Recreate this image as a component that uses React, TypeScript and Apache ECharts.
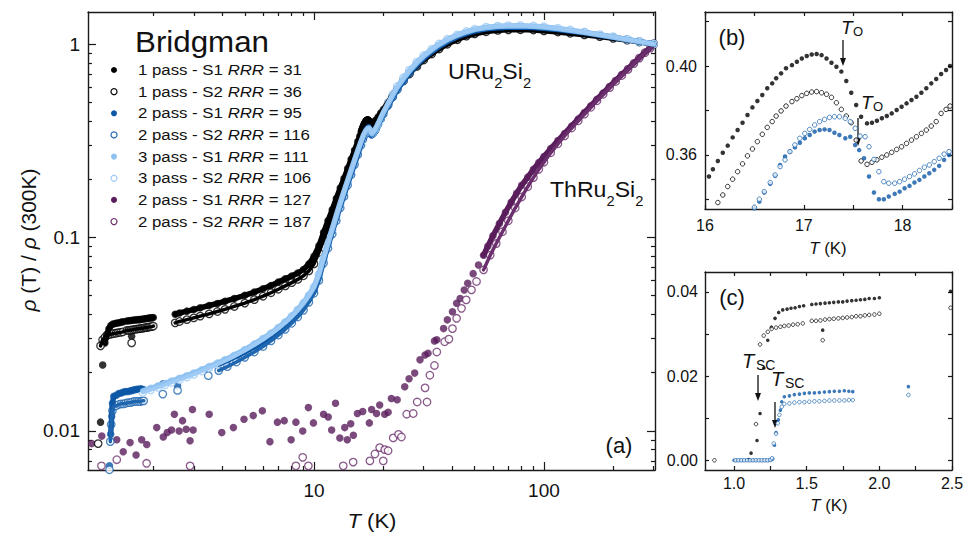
import React, { useEffect, useRef } from 'react';
import * as echarts from 'echarts';

type P = [number, number];

// ---------------- tick values ----------------
const aXMajor = [10, 100];
const aXMinor = [2, 3, 4, 5, 6, 7, 8, 9, 20, 30, 40, 50, 60, 70, 80, 90, 200, 300];
const aYMajor = [0.01, 0.1, 1];
const aYMinor = [0.007, 0.008, 0.009, 0.02, 0.03, 0.04, 0.05, 0.06, 0.07, 0.08, 0.09, 0.2, 0.3, 0.4, 0.5, 0.6, 0.7, 0.8, 0.9];
const bXTicks = [16, 16.5, 17, 17.5, 18, 18.5];
const bXLabels = [16, 17, 18];
const bYTicks = [0.34, 0.36, 0.38, 0.4, 0.42];
const bYLabels = [0.36, 0.4];
const cXTicks = [1, 1.25, 1.5, 1.75, 2, 2.25, 2.5];
const cXLabels = [1.0, 1.5, 2.0, 2.5];
const cYTicks = [0, 0.01, 0.02, 0.03, 0.04];
const cYLabels = [0, 0.02, 0.04];

// ---------------- legend ----------------
const legendLabels = ['1 pass - S1', '1 pass - S2', '2 pass - S1', '2 pass - S2', '3 pass - S1', '3 pass - S2', '2 pass - S1', '2 pass - S2'];
const legendRRR = [31, 36, 95, 116, 111, 106, 127, 187];

// ---------------- URu2Si2 1 pass S1 (black, filled) ----------------
const blackS1Low: P[] = [[1.10, 0.0002], [1.117, 0.0017], [1.158, 0.0047], [1.179, 0.0111], [1.205, 0.0219], [1.232, 0.0285], [1.257, 0.0316], [1.282, 0.0337], [1.307, 0.0351], [1.335, 0.0357], [1.365, 0.0359], [1.392, 0.0361], [1.42, 0.0362], [1.45, 0.0365], [1.479, 0.0367], [1.535, 0.037], [1.564, 0.0371], [1.594, 0.0372], [1.626, 0.0373], [1.656, 0.0374], [1.686, 0.0375], [1.718, 0.0376], [1.748, 0.0376], [1.778, 0.0378], [1.81, 0.0379], [1.84, 0.038], [1.87, 0.0381], [1.9, 0.0382], [1.93, 0.0384], [1.966, 0.0384], [2.0, 0.0386]];
const blackS1Odd: P[] = [[1.61, 0.0309]];
const blackS1Mid: P[] = [[2.49, 0.0401], [2.6, 0.0407], [2.8, 0.0416], [3.0, 0.0424], [3.2, 0.0433], [3.5, 0.0445], [3.8, 0.0456], [4.1, 0.0468], [4.5, 0.0483], [5.0, 0.0502], [5.5, 0.0522], [6.0, 0.0543], [6.5, 0.0565], [7.0, 0.0588], [7.5, 0.0611], [8.0, 0.0632], [8.5, 0.0655], [9.0, 0.0683], [9.5, 0.073], [10.0, 0.08], [10.5, 0.0905], [11.0, 0.106], [11.5, 0.122], [12.0, 0.139], [12.5, 0.159], [13.0, 0.18], [13.5, 0.202], [14.0, 0.227], [14.5, 0.254], [15.0, 0.282], [15.5, 0.313], [15.8, 0.333]];
const blackS1B: P[] = [[16.04, 0.3503], [16.08, 0.3536], [16.13, 0.3573], [16.18, 0.361], [16.23, 0.3642], [16.28, 0.3679], [16.33, 0.3712], [16.38, 0.3745], [16.43, 0.378], [16.48, 0.3814], [16.53, 0.3843], [16.58, 0.387], [16.63, 0.39], [16.68, 0.3922], [16.72, 0.3945], [16.77, 0.3967], [16.82, 0.399], [16.88, 0.4004], [16.93, 0.4019], [16.98, 0.4034], [17.03, 0.4045], [17.08, 0.4052], [17.13, 0.4054], [17.18, 0.4049], [17.23, 0.4034], [17.28, 0.4015], [17.33, 0.3997], [17.38, 0.3975], [17.43, 0.3933], [17.48, 0.388], [17.53, 0.3825], [17.58, 0.3772], [17.64, 0.3742], [17.69, 0.3745], [17.74, 0.3754], [17.79, 0.3765], [17.84, 0.3775], [17.89, 0.3787], [17.94, 0.3802], [17.99, 0.3817], [18.04, 0.3832], [18.09, 0.3847], [18.14, 0.3862], [18.19, 0.388], [18.24, 0.39], [18.29, 0.3922], [18.34, 0.3942], [18.39, 0.3964], [18.44, 0.3982], [18.48, 0.4]];
const blackS1High: P[] = [[18.6, 0.405], [19.0, 0.42], [19.5, 0.44], [20, 0.458], [21, 0.5], [22, 0.545], [23, 0.59], [24.5, 0.65], [26, 0.705], [28, 0.77], [30, 0.83], [32.5, 0.89], [35, 0.945], [38, 1.0], [42, 1.055], [46, 1.1], [50, 1.13], [56, 1.16], [63, 1.178], [70, 1.186], [79, 1.188], [90, 1.183], [100, 1.172], [115, 1.155], [130, 1.138], [150, 1.117], [175, 1.094], [200, 1.072], [230, 1.048], [260, 1.026], [300, 1.0]];

// ---------------- URu2Si2 1 pass S2 (black, open) ----------------
const blackS2Low: P[] = [[0.865, 0], [1.151, 0.0086], [1.179, 0.0275], [1.204, 0.0296], [1.232, 0.0305], [1.259, 0.0312], [1.289, 0.0315], [1.319, 0.0317], [1.346, 0.0319], [1.376, 0.032], [1.406, 0.0322], [1.438, 0.0323], [1.473, 0.0325], [1.535, 0.0331], [1.564, 0.0331], [1.594, 0.0332], [1.626, 0.0334], [1.656, 0.0335], [1.686, 0.0336], [1.718, 0.0337], [1.748, 0.0338], [1.778, 0.0339], [1.81, 0.034], [1.84, 0.0342], [1.87, 0.0342], [1.9, 0.0344], [1.93, 0.0345], [1.966, 0.0346], [2.0, 0.0348]];
const blackS2Odd: P[] = [[1.61, 0.0285]];
const blackS2Mid: P[] = [[2.49, 0.0362], [2.6, 0.0368], [2.8, 0.0376], [3.0, 0.0384], [3.2, 0.0392], [3.5, 0.0403], [3.8, 0.0414], [4.1, 0.0425], [4.5, 0.044], [5.0, 0.0458], [5.5, 0.0477], [6.0, 0.0497], [6.5, 0.0518], [7.0, 0.054], [7.5, 0.0562], [8.0, 0.0584], [8.5, 0.0607], [9.0, 0.0634], [9.5, 0.0672], [10.0, 0.073], [10.5, 0.0835], [11.0, 0.097], [11.5, 0.111], [12.0, 0.127], [12.5, 0.145], [13.0, 0.165], [13.5, 0.186], [14.0, 0.209], [14.5, 0.234], [15.0, 0.261], [15.5, 0.294], [15.8, 0.314]];
const blackS2B: P[] = [[16.13, 0.3386], [16.18, 0.342], [16.23, 0.3458], [16.28, 0.3491], [16.33, 0.3525], [16.38, 0.356], [16.43, 0.3596], [16.48, 0.3627], [16.53, 0.366], [16.58, 0.3693], [16.63, 0.3724], [16.68, 0.375], [16.72, 0.3775], [16.77, 0.3798], [16.82, 0.382], [16.88, 0.384], [16.93, 0.3853], [16.98, 0.3867], [17.03, 0.3877], [17.08, 0.3883], [17.13, 0.3885], [17.18, 0.388], [17.23, 0.3873], [17.28, 0.3859], [17.33, 0.3835], [17.38, 0.3805], [17.43, 0.3775], [17.48, 0.3745], [17.53, 0.3667], [17.58, 0.3573], [17.64, 0.3558], [17.69, 0.3567], [17.74, 0.3578], [17.79, 0.359], [17.84, 0.36], [17.89, 0.3612], [17.94, 0.3625], [17.99, 0.3637], [18.04, 0.3652], [18.09, 0.3667], [18.14, 0.3682], [18.19, 0.3697], [18.24, 0.3712], [18.29, 0.373], [18.34, 0.375], [18.39, 0.3787], [18.44, 0.3805], [18.48, 0.382]];
const blackS2High: P[] = [[18.6, 0.386], [19.0, 0.402], [19.5, 0.424], [20, 0.445], [21, 0.49], [22, 0.537], [23, 0.583], [24.5, 0.645], [26, 0.7], [28, 0.766], [30, 0.827], [32.5, 0.888], [35, 0.943], [38, 0.998], [42, 1.053], [46, 1.098], [50, 1.128], [56, 1.158], [63, 1.176], [70, 1.184], [79, 1.186], [90, 1.181], [100, 1.17], [115, 1.153], [130, 1.136], [150, 1.115], [175, 1.092], [200, 1.07], [230, 1.047], [260, 1.025], [300, 1.0]];

// ---------------- URu2Si2 2 pass S1 (dark blue, filled) ----------------
const blueS1Low: P[] = [[1.0, 0], [1.02, 0], [1.04, 0], [1.06, 0], [1.08, 0], [1.1, 0], [1.12, 0], [1.14, 0], [1.16, 0], [1.18, 0], [1.2, 0], [1.22, 0], [1.24, 0], [1.255, 0.0001], [1.266, 0.0003], [1.278, 0.0036], [1.289, 0.0066], [1.305, 0.0096], [1.319, 0.0119], [1.328, 0.0139], [1.346, 0.0151], [1.381, 0.0153], [1.415, 0.0156], [1.45, 0.0157], [1.484, 0.0159], [1.518, 0.016], [1.553, 0.016], [1.587, 0.0161], [1.622, 0.0162], [1.656, 0.0163], [1.69, 0.0164], [1.725, 0.0164], [1.759, 0.0165], [1.79, 0.0164], [1.817, 0.0163]];
const blueS1Odd: P[] = [[2.2, 0.0175], [2.55, 0.0171], [3.47, 0.0211]];
const blueS1Mid: P[] = [[3.85, 0.0222], [4.2, 0.0232], [4.6, 0.0244], [5.0, 0.0256], [5.5, 0.0272], [6.0, 0.0289], [6.5, 0.0308], [7.0, 0.0328], [7.5, 0.035], [8.0, 0.0375], [8.5, 0.0402], [9.0, 0.0435], [9.5, 0.0475], [10.0, 0.0525], [10.5, 0.0615], [11.0, 0.0755], [11.5, 0.0905], [12.0, 0.107], [12.5, 0.125], [13.0, 0.145], [13.5, 0.166], [14.0, 0.189], [14.5, 0.214], [15.0, 0.241], [15.5, 0.27], [16.0, 0.302], [16.3, 0.322]];
const blueS1B: P[] = [[16.5, 0.336], [16.55, 0.339], [16.6, 0.3431], [16.66, 0.347], [16.71, 0.3506], [16.76, 0.3555], [16.81, 0.3593], [16.86, 0.3615], [16.91, 0.3634], [16.96, 0.3655], [17.01, 0.3675], [17.06, 0.369], [17.11, 0.3705], [17.16, 0.3712], [17.21, 0.3715], [17.26, 0.3712], [17.31, 0.37], [17.36, 0.369], [17.42, 0.3675], [17.47, 0.3682], [17.52, 0.3645], [17.56, 0.3622], [17.61, 0.3585], [17.66, 0.3503], [17.71, 0.3431], [17.76, 0.3401], [17.81, 0.3401], [17.86, 0.3413], [17.92, 0.3425], [17.97, 0.3435], [18.02, 0.345], [18.07, 0.3461], [18.12, 0.3476], [18.17, 0.3488], [18.22, 0.3503], [18.27, 0.3518], [18.32, 0.3533], [18.37, 0.3551], [18.42, 0.3578], [18.47, 0.36]];
const blueS1High: P[] = [[18.7, 0.372], [19.0, 0.385], [19.5, 0.408], [20, 0.432], [21, 0.48], [22, 0.53], [23, 0.58], [24.5, 0.645], [26, 0.708], [28, 0.78], [30, 0.845], [32.5, 0.913], [35, 0.972], [38, 1.03], [42, 1.09], [46, 1.135], [50, 1.168], [56, 1.198], [63, 1.215], [70, 1.222], [79, 1.224], [90, 1.218], [100, 1.207], [115, 1.188], [130, 1.167], [150, 1.143], [175, 1.11], [200, 1.083], [230, 1.054], [260, 1.028], [300, 1.0]];

// ---------------- URu2Si2 2 pass S2 (dark blue, open) ----------------
const blueS2Low: P[] = [[1.01, 0], [1.03, 0], [1.05, 0], [1.07, 0], [1.09, 0], [1.11, 0], [1.13, 0], [1.15, 0], [1.17, 0], [1.19, 0], [1.21, 0], [1.23, 0], [1.25, 0.0001], [1.262, 0.0005], [1.273, 0.004], [1.289, 0.0063], [1.3, 0.0088], [1.312, 0.0108], [1.328, 0.0127], [1.346, 0.0134], [1.381, 0.0135], [1.415, 0.0137], [1.45, 0.0138], [1.484, 0.0138], [1.518, 0.0139], [1.553, 0.014], [1.587, 0.014], [1.622, 0.0141], [1.656, 0.0142], [1.69, 0.0142], [1.725, 0.0142], [1.759, 0.0142], [1.79, 0.0143], [1.817, 0.0143]];
const blueS2Odd: P[] = [[2.2, 0.0155], [2.55, 0.0162], [3.47, 0.0193]];
const blueS2Mid: P[] = [[3.85, 0.0205], [4.2, 0.0215], [4.6, 0.0227], [5.0, 0.024], [5.5, 0.0256], [6.0, 0.0273], [6.5, 0.0292], [7.0, 0.0313], [7.5, 0.0335], [8.0, 0.036], [8.5, 0.0388], [9.0, 0.042], [9.5, 0.0462], [10.0, 0.0515], [10.5, 0.06], [11.0, 0.0735], [11.5, 0.088], [12.0, 0.104], [12.5, 0.122], [13.0, 0.142], [13.5, 0.163], [14.0, 0.186], [14.5, 0.211], [15.0, 0.238], [15.5, 0.268], [16.0, 0.3], [16.3, 0.321]];
const blueS2B: P[] = [[16.5, 0.3365], [16.55, 0.3401], [16.6, 0.3435], [16.66, 0.3476], [16.71, 0.351], [16.76, 0.3548], [16.81, 0.3578], [16.86, 0.3615], [16.91, 0.3645], [16.96, 0.3675], [17.01, 0.3697], [17.06, 0.3715], [17.11, 0.3735], [17.16, 0.375], [17.21, 0.376], [17.26, 0.3769], [17.31, 0.3772], [17.36, 0.3772], [17.42, 0.3765], [17.47, 0.375], [17.52, 0.372], [17.57, 0.3685], [17.62, 0.3682], [17.66, 0.3637], [17.71, 0.358], [17.76, 0.3525], [17.81, 0.348], [17.86, 0.3473], [17.92, 0.3473], [17.97, 0.348], [18.02, 0.3491], [18.07, 0.3503], [18.12, 0.3515], [18.17, 0.353], [18.22, 0.3545], [18.27, 0.3555], [18.32, 0.357], [18.37, 0.3585], [18.42, 0.3604], [18.47, 0.3615]];
const blueS2High: P[] = [[18.7, 0.373], [19.0, 0.386], [19.5, 0.41], [20, 0.434], [21, 0.482], [22, 0.532], [23, 0.582], [24.5, 0.647], [26, 0.71], [28, 0.782], [30, 0.847], [32.5, 0.915], [35, 0.974], [38, 1.032], [42, 1.092], [46, 1.137], [50, 1.17], [56, 1.2], [63, 1.217], [70, 1.224], [79, 1.226], [90, 1.22], [100, 1.209], [115, 1.19], [130, 1.169], [150, 1.145], [175, 1.112], [200, 1.085], [230, 1.055], [260, 1.029], [300, 1.0]];

// ---------------- URu2Si2 3 pass (light blue) ----------------
const lightS1: P[] = [[1.8, 0.0161], [1.95, 0.0166], [2.1, 0.0171], [2.25, 0.0176], [2.4, 0.0181], [2.6, 0.0187], [2.8, 0.0193], [3.0, 0.0199], [3.25, 0.0207], [3.5, 0.0215], [3.8, 0.0224], [4.1, 0.0233], [4.5, 0.0246], [5.0, 0.0263], [5.5, 0.0281], [6.0, 0.03], [6.5, 0.032], [7.0, 0.0342], [7.5, 0.0366], [8.0, 0.0393], [8.5, 0.0424], [9.0, 0.046], [9.5, 0.0503], [10.0, 0.0557], [10.5, 0.0648], [11.0, 0.0785], [11.5, 0.094], [12.0, 0.111], [12.5, 0.13], [13.0, 0.151], [13.5, 0.173], [14.0, 0.197], [14.5, 0.223], [15.0, 0.251], [15.5, 0.281], [16.0, 0.313], [16.4, 0.338], [16.8, 0.356], [17.1, 0.365], [17.35, 0.367], [17.55, 0.36], [17.7, 0.348], [17.85, 0.344], [18.1, 0.35], [18.4, 0.36], [18.8, 0.378], [19.2, 0.398], [19.6, 0.42], [20, 0.442], [21, 0.492], [22, 0.545], [23, 0.598], [24.5, 0.665], [26, 0.728], [28, 0.802], [30, 0.868], [32.5, 0.937], [35, 0.997], [38, 1.055], [42, 1.112], [46, 1.157], [50, 1.19], [56, 1.218], [63, 1.234], [70, 1.241], [79, 1.243], [90, 1.236], [100, 1.224], [115, 1.202], [130, 1.178], [150, 1.15], [175, 1.115], [200, 1.087], [230, 1.056], [260, 1.03], [300, 1.0]];
const lightS2: P[] = [[1.8, 0.0158], [1.95, 0.0163], [2.1, 0.0168], [2.25, 0.0173], [2.4, 0.0178], [2.6, 0.0184], [2.8, 0.019], [3.0, 0.0196], [3.25, 0.0204], [3.5, 0.0212], [3.8, 0.0221], [4.1, 0.023], [4.5, 0.0243], [5.0, 0.026], [5.5, 0.0278], [6.0, 0.0297], [6.5, 0.0317], [7.0, 0.0339], [7.5, 0.0363], [8.0, 0.039], [8.5, 0.0421], [9.0, 0.0457], [9.5, 0.05], [10.0, 0.0553], [10.5, 0.0642], [11.0, 0.0778], [11.5, 0.093], [12.0, 0.11], [12.5, 0.129], [13.0, 0.15], [13.5, 0.172], [14.0, 0.196], [14.5, 0.222], [15.0, 0.25], [15.5, 0.28], [16.0, 0.312], [16.4, 0.338], [16.8, 0.357], [17.1, 0.367], [17.35, 0.37], [17.55, 0.364], [17.7, 0.352], [17.85, 0.347], [18.1, 0.352], [18.4, 0.362], [18.8, 0.381], [19.2, 0.401], [19.6, 0.423], [20, 0.446], [21, 0.497], [22, 0.55], [23, 0.603], [24.5, 0.67], [26, 0.733], [28, 0.806], [30, 0.872], [32.5, 0.94], [35, 1.0], [38, 1.058], [42, 1.115], [46, 1.16], [50, 1.193], [56, 1.222], [63, 1.238], [70, 1.245], [79, 1.247], [90, 1.24], [100, 1.228], [115, 1.206], [130, 1.182], [150, 1.153], [175, 1.118], [200, 1.09], [230, 1.058], [260, 1.032], [300, 1.0]];

// ---------------- ThRu2Si2 (purple) ----------------
const thS1: P[] = [[1.08, 0.0086], [1.194, 0.0094], [1.387, 0.009], [1.48, 0.0078], [1.585, 0.0087], [1.683, 0.0075], [1.78, 0.009], [1.873, 0.0085], [2.07, 0.0104], [2.21, 0.0093], [2.3, 0.0098], [2.4, 0.0101], [2.47, 0.0122], [2.59, 0.01], [2.68, 0.0113], [2.78, 0.0102], [2.89, 0.0089], [2.96, 0.0129], [2.98, 0.0101], [3.5, 0.0122], [3.97, 0.0098], [4.46, 0.0104], [4.96, 0.0115], [5.44, 0.012], [5.96, 0.0127], [6.43, 0.0088], [6.93, 0.0111], [7.42, 0.0113], [7.95, 0.009], [8.34, 0.0111], [8.93, 0.01], [9.45, 0.0132], [9.94, 0.011], [11.0, 0.0122], [11.53, 0.0118], [11.93, 0.0101], [12.4, 0.0139], [12.95, 0.0092], [13.6, 0.0104], [13.95, 0.009], [14.44, 0.0109], [14.83, 0.0095], [15.44, 0.0123], [16.28, 0.0126], [17.4, 0.011], [17.8, 0.0129], [18.7, 0.0123], [19.3, 0.0136], [20.3, 0.0122], [21.0, 0.0125], [21.7, 0.0147], [23.0, 0.0145], [24.8, 0.0169], [25.9, 0.0186], [27.4, 0.0199], [28.9, 0.0233], [30.4, 0.0247], [31.3, 0.0252], [33.4, 0.0292], [34.2, 0.0296], [36.6, 0.0338], [38.0, 0.0375], [40.0, 0.0413], [41.7, 0.0457], [43.2, 0.0484], [45.0, 0.0535], [46.6, 0.058], [49.2, 0.065], [51.9, 0.072], [54.6, 0.081], [57, 0.09], [60, 0.102], [64, 0.118], [68, 0.135], [72, 0.152], [76, 0.169], [80, 0.186], [85, 0.205], [90, 0.225], [95, 0.244], [100, 0.262], [107, 0.288], [115, 0.317], [123, 0.345], [132, 0.377], [141, 0.41], [150, 0.443], [160, 0.48], [170, 0.518], [181, 0.558], [193, 0.603], [205, 0.648], [218, 0.695], [232, 0.745], [246, 0.797], [260, 0.85], [275, 0.905], [290, 0.955], [300, 1.0]];
const thS2: P[] = [[1.19, 0.0066], [1.387, 0.0071], [1.87, 0.0068], [2.89, 0.0066], [8.34, 0.0066], [8.93, 0.0073], [9.45, 0.0066], [13.4, 0.0066], [14.8, 0.0069], [17.5, 0.007], [18.4, 0.0076], [19.3, 0.0082], [20.0, 0.007], [20.3, 0.008], [21.0, 0.0079], [22.1, 0.0092], [23.3, 0.0096], [24.0, 0.0093], [25.3, 0.0122], [27.0, 0.0123], [28.1, 0.0141], [30.4, 0.0167], [31.0, 0.0141], [31.9, 0.0194], [33.4, 0.0218], [34.2, 0.0256], [37.0, 0.0289], [38.6, 0.0298], [40.0, 0.0338], [41.7, 0.0382], [43.8, 0.043], [45.9, 0.0476], [48.4, 0.0536], [50.9, 0.0592], [54.6, 0.068], [58.4, 0.081], [62, 0.093], [66, 0.107], [70, 0.122], [75, 0.142], [80, 0.162], [85, 0.183], [90, 0.204], [95, 0.225], [100, 0.245], [107, 0.274], [115, 0.305], [123, 0.335], [132, 0.368], [141, 0.401], [150, 0.434], [160, 0.471], [170, 0.509], [181, 0.55], [193, 0.595], [205, 0.64], [218, 0.688], [232, 0.739], [246, 0.792], [260, 0.846], [275, 0.901], [290, 0.953], [300, 1.0]];

// ---------------- styling ----------------
const FONT = '"Liberation Sans", Arial, Helvetica, sans-serif';
const AX = '#1a1a1a';
const COL = {
  black: '#000000',
  blue: '#0d58a6',
  blueOpen: '#1f66b0',
  light: '#8fc2f1',
  lightOpen: '#9ecbf5',
  purple: '#5a1d5c',
  purpleOpen: '#6b2f6d',
};

interface Def {
  key: string;
  main: P[];
  odd: P[];
  color: string;
  hollow: boolean;
  bands: [number, number][];
  inBC: boolean;
}

const defs: Def[] = [
  { key: 'th1', main: thS1, odd: [], color: COL.purple, hollow: false, bands: [[52, 301]], inBC: false },
  { key: 'th2', main: thS2, odd: [], color: COL.purpleOpen, hollow: true, bands: [[54, 301]], inBC: false },
  { key: 'b1', main: [...blackS1Low, ...blackS1Mid, ...blackS1B, ...blackS1High], odd: blackS1Odd, color: COL.black, hollow: false, bands: [[1.23, 2.01], [2.45, 301]], inBC: true },
  { key: 'b2', main: [...blackS2Low, ...blackS2Mid, ...blackS2B, ...blackS2High], odd: blackS2Odd, color: COL.black, hollow: true, bands: [[1.17, 2.01], [2.45, 301]], inBC: true },
  { key: 'u1', main: [...blueS1Low, ...blueS1Mid, ...blueS1B, ...blueS1High], odd: blueS1Odd, color: COL.blue, hollow: false, bands: [[1.3, 1.83], [3.8, 301]], inBC: true },
  { key: 'u2', main: [...blueS2Low, ...blueS2Mid, ...blueS2B, ...blueS2High], odd: blueS2Odd, color: COL.blueOpen, hollow: true, bands: [[1.3, 1.83], [3.8, 301]], inBC: true },
  { key: 'l1', main: lightS1, odd: [], color: COL.light, hollow: false, bands: [[1.79, 301]], inBC: false },
  { key: 'l2', main: lightS2, odd: [], color: COL.lightOpen, hollow: true, bands: [[1.79, 301]], inBC: false },
];
const legendOrder = ['b1', 'b2', 'u1', 'u2', 'l1', 'l2', 'th1', 'th2'];

function mkAxis(o: {
  grid: number; position: string; type: 'log' | 'value'; min: number; max: number;
  ticks: number[]; tickLen: number; line: boolean; labels?: number[];
  fmt?: (v: number) => string; fontSize?: number; margin?: number;
}) {
  return {
    type: o.type,
    ...(o.type === 'log' ? { logBase: 10 } : {}),
    gridIndex: o.grid,
    position: o.position,
    min: o.min,
    max: o.max,
    axisLine: { show: o.line, onZero: false, lineStyle: { color: AX, width: 1.4 } },
    axisTick: { show: true, inside: true, length: o.tickLen, customValues: o.ticks, lineStyle: { color: AX, width: 1.2 } },
    axisLabel: o.labels
      ? { show: true, customValues: o.labels, formatter: o.fmt, fontSize: o.fontSize, fontFamily: FONT, color: '#111', margin: o.margin, hideOverlap: false }
      : { show: false },
    splitLine: { show: false },
    minorTick: { show: false },
    minorSplitLine: { show: false },
  };
}

const logFmt = (v: number) => String(parseFloat(Number(v).toPrecision(6)));
const f0 = (v: number) => String(Math.round(v));
const f1 = (v: number) => Number(v).toFixed(1);
const f2 = (v: number) => Number(v).toFixed(2);

function buildOption() {
  const xAxis: any[] = [
    mkAxis({ grid: 0, position: 'bottom', type: 'log', min: 1.04, max: 304, ticks: aXMajor, tickLen: 8, line: true, labels: aXMajor, fmt: logFmt, fontSize: 19, margin: 11 }),
    mkAxis({ grid: 0, position: 'bottom', type: 'log', min: 1.04, max: 304, ticks: aXMinor, tickLen: 4, line: false }),
    mkAxis({ grid: 0, position: 'top', type: 'log', min: 1.04, max: 304, ticks: aXMajor, tickLen: 8, line: true }),
    mkAxis({ grid: 0, position: 'top', type: 'log', min: 1.04, max: 304, ticks: aXMinor, tickLen: 4, line: false }),
    mkAxis({ grid: 1, position: 'bottom', type: 'value', min: 16, max: 18.5, ticks: bXTicks, tickLen: 4, line: true, labels: bXLabels, fmt: f0, fontSize: 16, margin: 8 }),
    mkAxis({ grid: 1, position: 'top', type: 'value', min: 16, max: 18.5, ticks: bXTicks, tickLen: 4, line: true }),
    mkAxis({ grid: 2, position: 'bottom', type: 'value', min: 0.8, max: 2.5, ticks: cXTicks, tickLen: 4, line: true, labels: cXLabels, fmt: f1, fontSize: 16, margin: 5 }),
    mkAxis({ grid: 2, position: 'top', type: 'value', min: 0.8, max: 2.5, ticks: cXTicks, tickLen: 4, line: true }),
  ];
  const yAxis: any[] = [
    mkAxis({ grid: 0, position: 'left', type: 'log', min: 0.00628, max: 1.464, ticks: aYMajor, tickLen: 8, line: true, labels: aYMajor, fmt: logFmt, fontSize: 19, margin: 8 }),
    mkAxis({ grid: 0, position: 'left', type: 'log', min: 0.00628, max: 1.464, ticks: aYMinor, tickLen: 4, line: false }),
    mkAxis({ grid: 0, position: 'right', type: 'log', min: 0.00628, max: 1.464, ticks: aYMajor, tickLen: 8, line: true }),
    mkAxis({ grid: 0, position: 'right', type: 'log', min: 0.00628, max: 1.464, ticks: aYMinor, tickLen: 4, line: false }),
    mkAxis({ grid: 1, position: 'left', type: 'value', min: 0.3357, max: 0.4243, ticks: bYTicks, tickLen: 4, line: true, labels: bYLabels, fmt: f2, fontSize: 16, margin: 8 }),
    mkAxis({ grid: 1, position: 'right', type: 'value', min: 0.3357, max: 0.4243, ticks: bYTicks, tickLen: 4, line: true }),
    mkAxis({ grid: 2, position: 'left', type: 'value', min: -0.0023, max: 0.0447, ticks: cYTicks, tickLen: 4, line: true, labels: cYLabels, fmt: f2, fontSize: 16, margin: 7 }),
    mkAxis({ grid: 2, position: 'right', type: 'value', min: -0.0023, max: 0.0447, ticks: cYTicks, tickLen: 4, line: true }),
  ];

  const series: any[] = [];
  const sym = (d: Def, size: number, bw: number) => ({
    symbol: 'circle',
    symbolSize: size,
    itemStyle: d.hollow ? { color: '#ffffff', borderColor: d.color, borderWidth: bw } : { color: d.color },
  });

  defs.forEach((d) => {
    d.bands.forEach(([lo, hi]) => {
      series.push({
        type: 'line', xAxisIndex: 0, yAxisIndex: 0, silent: true, clip: true,
        data: d.main.filter((p) => p[0] >= lo && p[0] <= hi && p[1] > 0),
        showSymbol: false, symbol: 'none',
        lineStyle: { color: d.color, width: d.hollow ? 3.5 : 5.5, cap: 'round', join: 'round' },
        emphasis: { disabled: true },
      });
    });
    series.push({
      type: 'scatter', xAxisIndex: 0, yAxisIndex: 0, silent: true, clip: true,
      data: [...d.main, ...d.odd].filter((p) => p[1] > 0),
      ...sym(d, 7.5, 1.3),
      emphasis: { disabled: true },
    });
  });
  defs.filter((d) => d.inBC).forEach((d) => {
    series.push({
      type: 'scatter', xAxisIndex: 4, yAxisIndex: 4, silent: true, clip: true,
      data: d.main, ...sym(d, 4.5, 1), emphasis: { disabled: true },
    });
    series.push({
      type: 'scatter', xAxisIndex: 6, yAxisIndex: 6, silent: true, clip: true,
      data: [...d.main, ...d.odd], ...sym(d, 3.6, 0.9), emphasis: { disabled: true },
    });
  });

  const txt = (x: number, y: number, text: string, size: number, extra: any = {}) => ({
    type: 'text', x, y, silent: true,
    style: {
      text, fontSize: size, fontFamily: FONT, fill: '#111',
      align: extra.align || 'left', verticalAlign: 'middle',
      textAlign: extra.align || 'left', textVerticalAlign: 'middle',
      fontStyle: extra.italic ? 'italic' : 'normal',
      rich: extra.rich,
    },
    rotation: extra.rotation || 0,
    scaleX: extra.scaleX || 1,
  });

  const arrow = (x: number, y0: number, y1: number) => [
    { type: 'line', silent: true, shape: { x1: x, y1: y0, x2: x, y2: y1 - 5 }, style: { stroke: '#111', lineWidth: 1.3 } },
    { type: 'polygon', silent: true, shape: { points: [[x - 3, y1 - 8], [x + 3, y1 - 8], [x, y1]] }, style: { fill: '#111' } },
  ];

  const graphic: any[] = [];
  graphic.push(txt(135, 42, 'Bridgman', 29, { scaleX: 1.08 }));
  legendOrder.forEach((k, i) => {
    const d = defs.find((dd) => dd.key === k)!;
    const y = 70 + i * 21.65;
    graphic.push({
      type: 'circle', silent: true, shape: { cx: 114, cy: y, r: 3 },
      style: d.hollow ? { fill: '#fff', stroke: d.color, lineWidth: 1.2 } : { fill: d.color },
    });
    graphic.push(txt(138, y, `${legendLabels[i]} {i|RRR} = ${legendRRR[i]}`, 15, {
      scaleX: 1.12,
      rich: { i: { fontStyle: 'italic', fontSize: 15, fontFamily: FONT, fill: '#111' } },
    }));
  });
  const subRich = (size: number) => ({
    m: { fontSize: size, fontFamily: FONT, fill: '#111', lineHeight: 36 },
    s: { fontSize: 14, fontFamily: FONT, fill: '#111', lineHeight: 14, verticalAlign: 'bottom' },
  });
  graphic.push(txt(448, 72, '{m|URu}{s|2}{m|Si}{s|2}', 22, { rich: subRich(22), scaleX: 1.05 }));
  graphic.push(txt(550, 190, '{m|ThRu}{s|2}{m|Si}{s|2}', 22, { rich: subRich(22), scaleX: 1.05 }));
  graphic.push(txt(619, 445, '(a)', 22, { align: 'center' }));
  graphic.push(txt(732, 37, '(b)', 22, { align: 'center' }));
  graphic.push(txt(732, 297, '(c)', 22, { align: 'center' }));
  const italicRich = (size: number) => ({ i: { fontStyle: 'italic', fontSize: size, fontFamily: FONT, fill: '#111' } });
  graphic.push(txt(372, 521, '{i|T} (K)', 20, { align: 'center', rich: italicRich(20), scaleX: 1.1 }));
  graphic.push(txt(828, 248, '{i|T} (K)', 16, { align: 'center', rich: italicRich(16), scaleX: 1.05 }));
  graphic.push(txt(829, 505, '{i|T} (K)', 16, { align: 'center', rich: italicRich(16), scaleX: 1.05 }));
  graphic.push(txt(28, 240, '{i|ρ} (T) / {i|ρ} (300K)', 21, { align: 'center', rich: italicRich(21), rotation: Math.PI / 2 }));
  graphic.push(txt(841, 27, 'T', 19, { italic: true }));
  graphic.push(txt(853, 31, 'O', 13));
  graphic.push(...arrow(843, 40, 66));
  graphic.push(txt(861, 102, 'T', 19, { italic: true }));
  graphic.push(txt(873, 106, 'O', 13));
  graphic.push(...arrow(858, 118, 146));
  graphic.push(txt(742, 361, 'T', 20, { italic: true }));
  graphic.push(txt(756, 365, 'SC', 14));
  graphic.push(...arrow(758, 375, 401));
  graphic.push(txt(771, 379, 'T', 20, { italic: true }));
  graphic.push(txt(785, 383, 'SC', 14));
  graphic.push(...arrow(775, 402, 428));

  return {
    animation: false,
    backgroundColor: '#ffffff',
    grid: [
      { left: 88, top: 12, width: 567, height: 458, outerBoundsMode: 'none', containLabel: false },
      { left: 705, top: 12, width: 247, height: 197, outerBoundsMode: 'none', containLabel: false },
      { left: 705, top: 272, width: 247, height: 198, outerBoundsMode: 'none', containLabel: false },
    ],
    xAxis,
    yAxis,
    series,
    graphic,
  };
}

export default function App() {
  const ref = useRef<HTMLDivElement>(null);
  useEffect(() => {
    if (!ref.current) return;
    const chart = echarts.init(ref.current, undefined, { renderer: 'svg' });
    chart.setOption(buildOption() as any);
    return () => chart.dispose();
  }, []);
  return (
    <div
      ref={ref}
      style={{ position: 'fixed', left: 0, top: 0, width: 965, height: 534, background: '#fff' }}
    />
  );
}
